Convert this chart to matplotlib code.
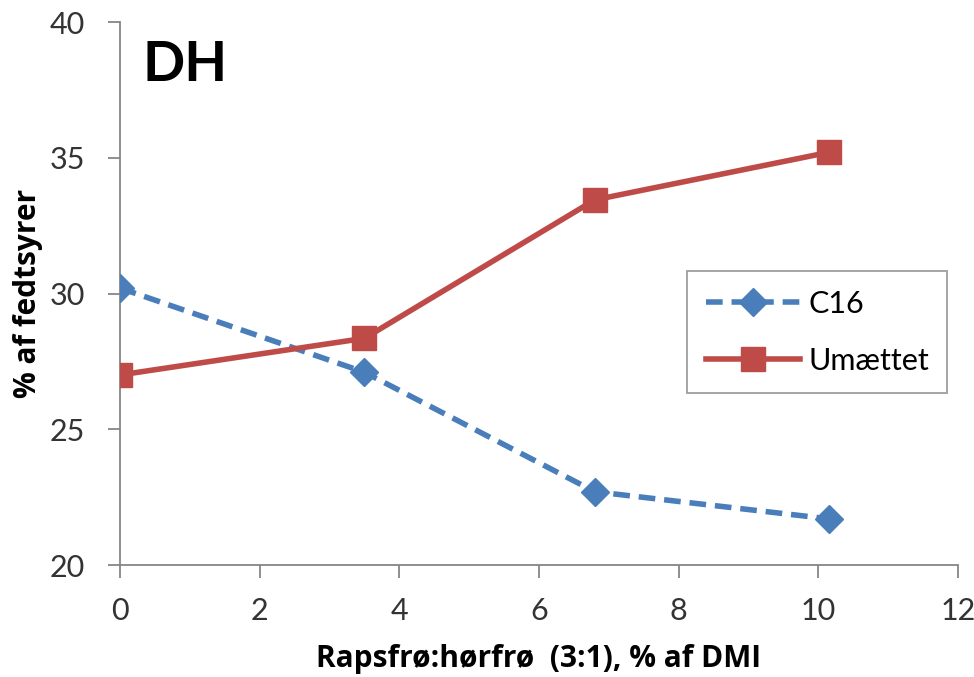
import matplotlib
matplotlib.use('Agg')
import matplotlib.pyplot as plt

# data
x = [0, 3.5, 6.8, 10.15]
c16 = [30.2, 27.1, 22.7, 21.7]
umaettet = [27.0, 28.35, 33.45, 35.2]

plt.rcParams['font.family'] = ['Lato', 'DejaVu Sans']

fig = plt.figure(figsize=(9.74, 6.77), dpi=100)
ax = fig.add_axes([0.1232, 0.1654, 0.8604, 0.8021])

ax.plot(x, c16, color='#4a7ebb', linestyle=(0, (3, 1.6)), linewidth=4,
        marker='D', markersize=14, label='C16', zorder=3)
ax.plot(x, umaettet, color='#be4b48', linewidth=4,
        marker='s', markersize=17, label='Umættet', zorder=3)

ax.set_xlim(0, 12)
ax.set_ylim(20, 40)
ax.set_xticks(range(0, 13, 2))
ax.set_yticks(range(20, 41, 5))

for s in ['top', 'right']:
    ax.spines[s].set_visible(False)
for s in ['left', 'bottom']:
    ax.spines[s].set_color('#868686')
    ax.spines[s].set_linewidth(1.3)
ax.tick_params(axis='both', colors='#868686', labelcolor='#333333',
               labelsize=22, length=9, width=1.3, direction='out')
ax.tick_params(axis='x', pad=14)
ax.tick_params(axis='y', pad=16)

lab_font = dict(family=['Open Sans', 'DejaVu Sans'], fontsize=21.5, fontweight='bold')
ax.set_xlabel('Rapsfrø:hørfrø  (3:1), % af DMI', labelpad=14, **lab_font)
ax.set_ylabel('% af fedtsyrer', labelpad=5, **lab_font)

ax.text(0.027, 0.92, 'DH', transform=ax.transAxes, fontsize=40,
        fontweight='bold', va='center', ha='left')

leg = ax.legend(loc='center left', bbox_to_anchor=(0.677, 0.429),
                borderaxespad=0, fontsize=22, frameon=True, fancybox=False,
                borderpad=0.6, labelspacing=0.95, handlelength=3.1,
                handletextpad=0.26)
leg.get_frame().set_edgecolor('#868686')
leg.get_frame().set_linewidth(1.3)

fig.savefig('out.png', dpi=100)
